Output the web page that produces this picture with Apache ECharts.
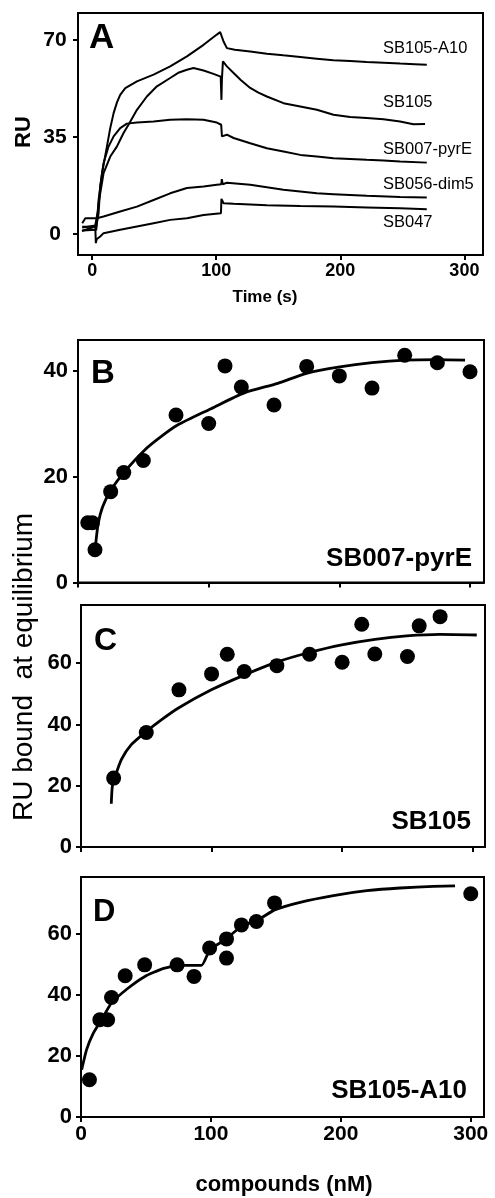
<!DOCTYPE html>
<html><head><meta charset="utf-8">
<script src="https://cdn.jsdelivr.net/npm/echarts@6/dist/echarts.min.js"></script>
<style>html,body{margin:0;padding:0;background:#fff}#c{width:495px;height:1198px}</style>
</head><body><div id="c"></div>
<script>
// ---------- Panel A: sensorgrams (time s, RU) ----------
const traceNames = ['SB105-A10', 'SB105', 'SB007-pyrE', 'SB056-dim5', 'SB047'];
const traceSB105A10 = [[-8,2.2],[2.5,3.0],[4.5,8],[5.2,12.2],[8,22],[11.9,31.5],[14.5,38],[17.3,43.6],[20,47.5],[22.6,50.2],[26.7,52.6],[36.1,55.1],[49.5,57.5],[62.9,60.5],[76.4,64.1],[89.8,68.3],[100.5,72.0],[103.2,72.9],[105.9,69.5],[108.6,67.1],[115,66.5],[127.4,65.9],[140.8,65.1],[154,64.5],[167.7,63.9],[181,63.3],[194.5,62.7],[208,62.4],[221.3,62.1],[235,61.8],[248.2,61.5],[260,61.3],[269.7,61.1]];
const traceSB105 = [[-8,1.2],[3.3,1.4],[5.2,11.0],[9.2,21.9],[14.6,27.9],[19.9,31.5],[25.3,36.4],[29.3,39.4],[36.1,44.8],[44.1,49.6],[52.2,53.3],[62.9,56.3],[70,58.3],[76.4,59.3],[81.7,59.9],[89.8,59.0],[97.8,57.8],[103.6,56.8],[104.2,48.4],[104.6,56.0],[105.4,62.3],[108.6,60.5],[114,58.1],[120,55.5],[127.4,52.7],[134,51.0],[140.8,49.6],[154.2,47.2],[167.7,46.0],[181.1,44.8],[194.5,43.0],[207.9,42.2],[221.3,41.8],[234.8,41.4],[248.2,40.6],[258.9,39.6],[268.3,39.7]];
const traceSB007 = [[-8,2.5],[3.3,2.6],[5.2,7.4],[6.5,17.1],[9.2,25.5],[13.2,31.5],[17.3,35.2],[22.6,38.2],[28,39.8],[36.1,40.2],[49.5,40.6],[62.9,41.2],[76.4,41.4],[89.8,41.2],[100.5,40.2],[104,39.4],[104.6,35.2],[108.6,35.8],[114,34.6],[127.4,32.7],[140.8,30.9],[154.2,29.7],[167.7,28.5],[181.1,27.9],[194.5,27.3],[207.9,27.0],[221.3,26.7],[234.8,26.5],[248.2,26.1],[269.7,25.7]];
const traceSB056 = [[-8,3.8],[-5.5,5.6],[3.8,5.6],[9.2,6.2],[22.6,8.0],[36.1,9.8],[49.5,12.2],[62.9,14.6],[76.4,16.5],[89.8,17.1],[100.5,17.7],[104.1,17.9],[104.5,19.7],[105.2,17.9],[108.6,18.4],[127.4,17.7],[140.8,16.8],[154.2,15.9],[167.7,15.3],[181.1,14.6],[194.5,14.3],[221.3,13.7],[248.2,13.3],[269.7,13.1]];
const traceSB047 = [[-8.2,1.0],[2.5,2.6],[3.0,-3.4],[3.6,-2.0],[6.5,-1.0],[9.2,0.2],[22.6,1.4],[36.1,2.6],[49.5,3.8],[62.9,5.0],[76.4,5.6],[89.8,6.8],[103.8,7.4],[104.2,12.6],[105.9,11.0],[114,10.8],[140.8,10.3],[167.7,10.0],[194.5,9.8],[221.3,9.5],[248.2,9.2],[269.7,8.8]];
const ticksAX = [0, 100, 200, 300];
const ticksAY = [0, 35, 70];

// ---------- Panel B: SB007-pyrE ----------
const bX = [7.5, 11, 13, 25, 35, 50, 75, 100, 112.5, 125, 150, 175, 200, 225, 250, 275, 300];
const bY = [11.3, 11.3, 6.2, 17.2, 20.8, 23.1, 31.7, 30.1, 41.0, 37.0, 33.6, 40.9, 39.1, 36.8, 43.0, 41.6, 39.9];
const bFitX = [13.6, 15.5, 18.8, 25.2, 35.4, 50.7, 63.5, 76.2, 101.8, 127.3, 152.9, 174.9, 200.4, 224.9, 250.2, 275, 296.2];
const bFitY = [7.4, 11.2, 14.3, 17.5, 20.9, 25.0, 27.6, 29.8, 32.9, 35.9, 37.7, 39.6, 40.8, 41.6, 42.1, 42.2, 42.1];
const ticksBY = [0, 20, 40];

// ---------- Panel C: SB105 ----------
const cX = [25, 50, 75, 100, 112, 125, 150, 175, 200, 215, 225, 250, 259, 275];
const cY = [22.5, 37.4, 51.3, 56.5, 62.9, 57.3, 59.2, 62.9, 60.3, 72.7, 63.0, 62.2, 72.2, 75.2];
const cFitX = [23.2, 24, 25.8, 30.9, 38.5, 50, 61.5, 74.3, 99.8, 125.4, 150.9, 174.8, 199.7, 225.2, 249.4, 274.9, 303.1];
const cFitY = [14.1, 19.8, 22.5, 28.5, 33.4, 37.7, 41.5, 45.3, 51.3, 56.2, 60.5, 63.5, 66.0, 67.8, 68.9, 69.4, 69.2];

// ---------- Panel D: SB105-A10 ----------
const dX = [6.5, 14.5, 20.5, 23.5, 34, 49, 74, 87, 99, 112, 112, 123.5, 135, 149, 300];
const dY = [12.2, 31.9, 31.9, 39.2, 46.3, 49.9, 49.9, 46.1, 55.4, 58.4, 52.1, 63.0, 64.1, 70.2, 73.2];
const dFitX = [0.5, 4.3, 9.5, 15.8, 23.5, 36.4, 49.2, 62, 74.8, 92.8, 99.2, 110.8, 123.5, 136.4, 149.5, 168.7, 194.3, 220, 245.6, 271.2, 287.9];
const dFitY = [15.5, 22.1, 27.5, 31.9, 37.4, 42.3, 46.1, 48.5, 49.7, 49.7, 54.9, 58.1, 62.5, 64.7, 68.0, 70.4, 72.6, 74.2, 75.1, 75.6, 75.8];
const ticksCDY = [0, 20, 40, 60];
const ticksBCDX = [0, 100, 200, 300];

const FONT = "'Liberation Sans', Arial, Helvetica, sans-serif";
const zip = (xs, ys) => xs.map((x, i) => [x, ys[i]]);

function xAxis(gi, min, max, ticks, labels, fontSize, margin) {
  return {
    type: 'value', gridIndex: gi, min: min, max: max,
    axisLine: { show: true, onZero: false, lineStyle: { color: '#000', width: 2 } },
    axisTick: { show: true, inside: false, length: 5, lineStyle: { color: '#000', width: 2 }, customValues: ticks },
    axisLabel: { show: labels, customValues: ticks, color: '#000', fontWeight: 'bold', fontFamily: FONT, fontSize: fontSize, margin: margin },
    splitLine: { show: false }
  };
}
function yAxis(gi, min, max, ticks, fontSize, margin, align) {
  return {
    type: 'value', gridIndex: gi, min: min, max: max,
    axisLine: { show: true, onZero: false, lineStyle: { color: '#000', width: 2 } },
    axisTick: { show: true, inside: false, length: 5, lineStyle: { color: '#000', width: 2 }, customValues: ticks },
    axisLabel: { show: true, customValues: ticks, color: '#000', fontWeight: 'bold', fontFamily: FONT, fontSize: fontSize, margin: margin, align: align },
    splitLine: { show: false }
  };
}
const gridStyle = { show: true, borderColor: '#000', borderWidth: 2, backgroundColor: 'transparent' };

function trace(data) {
  return { type: 'line', xAxisIndex: 0, yAxisIndex: 0, data: data, showSymbol: false, symbol: 'none',
    lineStyle: { color: '#000', width: 2 }, silent: true };
}
function dots(i, xs, ys) {
  return { type: 'scatter', xAxisIndex: i, yAxisIndex: i, data: zip(xs, ys), symbolSize: 15,
    itemStyle: { color: '#000', opacity: 1 }, silent: true, z: 3 };
}
function fit(i, xs, ys, sm) {
  return { type: 'line', xAxisIndex: i, yAxisIndex: i, data: zip(xs, ys), showSymbol: false, symbol: 'none',
    smooth: sm, lineStyle: { color: '#000', width: 2.8 }, silent: true, z: 2 };
}
function txt(x, y, text, size, weight, align, rot) {
  return { type: 'text', x: x, y: y, rotation: rot || 0, silent: true,
    style: { text: text, fill: '#000', font: weight + ' ' + size + 'px ' + FONT, align: align, verticalAlign: 'middle' } };
}

const option = {
  animation: false,
  backgroundColor: '#fff',
  grid: [
    Object.assign({ left: 78, top: 13, width: 405, height: 242 }, gridStyle),
    Object.assign({ left: 78, top: 340, width: 406, height: 242.5 }, gridStyle),
    Object.assign({ left: 81, top: 605, width: 404, height: 242 }, gridStyle),
    Object.assign({ left: 81, top: 877, width: 403, height: 240 }, gridStyle)
  ],
  xAxis: [
    xAxis(0, -11.4, 315, ticksAX, true, 18, 7),
    xAxis(1, 0, 310.7, ticksBCDX, false, 21, 7),
    xAxis(2, 0, 309.4, ticksBCDX, false, 21, 7),
    xAxis(3, 0, 310.2, ticksBCDX, true, 21, 7)
  ],
  yAxis: [
    yAxis(0, -7.7, 79.8, ticksAY, 21, 23, 'center'),
    yAxis(1, 0, 45.9, ticksBY, 22, 10, 'right'),
    yAxis(2, 0, 79.0, ticksCDY, 22, 9, 'right'),
    yAxis(3, 0, 78.7, ticksCDY, 22, 9, 'right')
  ],
  series: [
    trace(traceSB105A10), trace(traceSB105), trace(traceSB007), trace(traceSB056), trace(traceSB047),
    fit(1, bFitX, bFitY, 0.25), dots(1, bX, bY),
    fit(2, cFitX, cFitY, 0.25), dots(2, cX, cY),
    fit(3, dFitX, dFitY, 0.15), dots(3, dX, dY)
  ],
  graphic: [
    txt(89, 38, 'A', 35, 'bold', 'left'),
    txt(383, 48, traceNames[0], 16.5, 'normal', 'left'),
    txt(383, 102, traceNames[1], 16.5, 'normal', 'left'),
    txt(383, 149, traceNames[2], 16.5, 'normal', 'left'),
    txt(383, 184, traceNames[3], 16.5, 'normal', 'left'),
    txt(383, 222, traceNames[4], 16.5, 'normal', 'left'),
    txt(265, 297, 'Time (s)', 17, 'bold', 'center'),
    txt(24, 132, 'RU', 22, 'bold', 'center', Math.PI / 2),
    txt(91, 374, 'B', 33, 'bold', 'left'),
    txt(472, 559, 'SB007-pyrE', 26, 'bold', 'right'),
    txt(94, 641, 'C', 32, 'bold', 'left'),
    txt(471, 822, 'SB105', 26, 'bold', 'right'),
    txt(93, 912, 'D', 31, 'bold', 'left'),
    txt(467, 1091, 'SB105-A10', 26, 'bold', 'right'),
    txt(24, 667, 'RU bound  at equilibrium', 28, 'normal', 'center', Math.PI / 2),
    txt(284, 1185, 'compounds (nM)', 22, 'bold', 'center')
  ]
};
const chart = echarts.init(document.getElementById('c'), null, { renderer: 'canvas' });
chart.setOption(option);
</script></body></html>
